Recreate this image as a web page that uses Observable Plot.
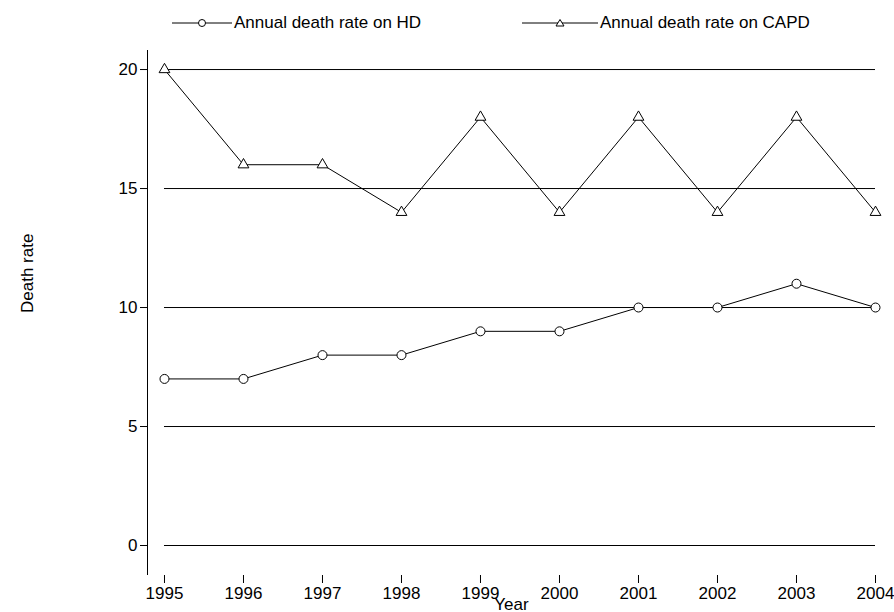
<!DOCTYPE html><html><head><meta charset="utf-8">
<script src="https://cdn.jsdelivr.net/npm/d3@7"></script>
<script src="https://cdn.jsdelivr.net/npm/@observablehq/plot@0.6"></script>
<style>body{margin:0;background:#fff;font-family:"Liberation Sans",Arial,sans-serif}
#leg{height:45px;position:relative;font-size:17px}
.it{position:absolute;top:13px;display:flex;align-items:center}
</style></head><body>
<div id="leg">
<div class="it" style="left:172px"><svg width="60" height="20"><line x1="0" y1="10" x2="60" y2="10" stroke="#000"/><circle cx="30" cy="10" r="3.5" fill="#fff" stroke="#000"/></svg><span style="margin-left:2px">Annual death rate on HD</span></div>
<div class="it" style="left:522px"><svg width="76" height="20"><line x1="0" y1="10" x2="76" y2="10" stroke="#000"/><path d="M38,6.5 L42,13 L34,13Z" fill="#fff" stroke="#000"/></svg><span style="margin-left:2px">Annual death rate on CAPD</span></div>
</div>
<div id="c"></div>
<script>
const years=[1995,1996,1997,1998,1999,2000,2001,2002,2003,2004];
const hd=[7,7,8,8,9,9,10,10,11,10];
const capd=[20,16,16,14,18,14,18,14,18,14];
const yTicks=[0,5,10,15,20];
const H=years.map((y,i)=>({y,v:hd[i]})), C=years.map((y,i)=>({y,v:capd[i]}));
const p=Plot.plot({width:894,height:567,marginLeft:147,marginRight:19,marginTop:5,marginBottom:37,
style:{fontFamily:"Liberation Sans, Arial, sans-serif",fontSize:"17px",color:"#000"},
x:{domain:[1994.785,2004],label:null},
y:{domain:[-1.26,20.8],label:null},
marks:[
Plot.ruleY(yTicks,{x1:1995,x2:2004,stroke:"#000",strokeWidth:1}),
Plot.ruleX([1994.785],{stroke:"#000"}),
Plot.axisX({ticks:years,tickFormat:d=>String(d),tickSize:8,label:null,fontSize:17}),
Plot.axisY({ticks:yTicks,tickSize:7,label:null,fontSize:17}),
Plot.line(H,{x:"y",y:"v",stroke:"#000",strokeWidth:1}),
Plot.dot(H,{x:"y",y:"v",r:4.5,fill:"#fff",stroke:"#000",strokeWidth:1}),
Plot.line(C,{x:"y",y:"v",stroke:"#000",strokeWidth:1}),
Plot.dot(C,{x:"y",y:"v",symbol:"triangle",r:4,fill:"#fff",stroke:"#000",strokeWidth:1}),
Plot.text(["Year"],{frameAnchor:"bottom",dy:34,fontSize:17}),
Plot.text(["Death rate"],{frameAnchor:"left",dx:-120,rotate:-90,fontSize:17})
]});
document.getElementById("c").appendChild(p);
</script></body></html>
